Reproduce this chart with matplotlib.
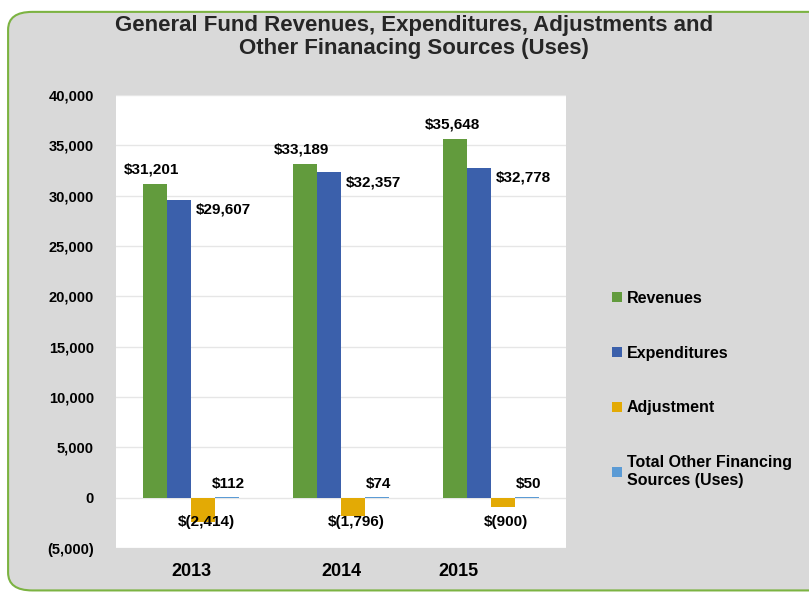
import matplotlib.pyplot as plt
import matplotlib.transforms as mtransforms
from matplotlib.patches import FancyBboxPatch
import numpy as np

plt.rcParams['font.family'] = ['Liberation Sans', 'DejaVu Sans']
plt.rcParams['font.weight'] = 'bold'

years = ['2013', '2014', '2015']
revenues = [31201, 33189, 35648]
expenditures = [29607, 32357, 32778]
adjustment = [-2414, -1796, -900]
other_financing = [112, 74, 50]

series_names = ['Revenues', 'Expenditures', 'Adjustment',
                'Total Other Financing\nSources (Uses)']
colors = ['#629b3d', '#3b60ab', '#e3aa05', '#5b9bd5']


def money(v):
    if v < 0:
        return f"$({-v:,})"
    return f"${v:,}"


fig = plt.figure(figsize=(8.09, 5.94), dpi=100)
fig.patch.set_facecolor('white')

# grey panel with green rounded edge
panel = FancyBboxPatch((0.010, 0.006), 1.2, 0.974,
                       boxstyle="round,pad=0,rounding_size=0.03",
                       transform=fig.transFigure, facecolor='#d9d9d9',
                       edgecolor='#7cb342', linewidth=1.5, zorder=-10)
fig.patches.append(panel)

ax = fig.add_axes([0.1434, 0.0774, 0.5562, 0.7626])
ax.set_facecolor('white')

x = np.arange(len(years))
w = 0.16
data = [revenues, expenditures, adjustment, other_financing]
bars = []
for i, (vals, c, name) in enumerate(zip(data, colors, series_names)):
    b = ax.bar(x + (i - 1.5) * w, vals, width=w, color=c, label=name,
               linewidth=0, zorder=3)
    bars.append(b)

ax.set_xlim(-0.5, 2.5)
ax.set_ylim(-5000, 40000)
ticks = np.arange(-5000, 40001, 5000)
ax.set_yticks(ticks)
ax.set_yticklabels([f"({-t:,})" if t < 0 else f"{t:,}" for t in ticks])
ax.yaxis.grid(True, color='#e6e6e6', linewidth=1, zorder=0)
ax.tick_params(axis='y', length=0, pad=16, labelsize=10.5)
ax.tick_params(axis='x', length=0, pad=11, labelsize=13)
for s in ax.spines.values():
    s.set_visible(False)

ax.set_xticks(x)
ax.set_xticklabels(years)
# the 2015 category label sits left of its group
shift = mtransforms.ScaledTranslation(-0.33, 0, fig.dpi_scale_trans)
lab = ax.get_xticklabels()[2]
lab.set_transform(lab.get_transform() + shift)

fs = 11
for i in range(len(years)):
    xr = x[i] - 1.5 * w
    ax.text(xr - 0.02, revenues[i] + 700, money(revenues[i]),
            ha='center', va='bottom', fontsize=fs)
    xe = x[i] - 0.5 * w
    ax.text(xe + w / 2 + 0.03, expenditures[i] - 1000, money(expenditures[i]),
            ha='left', va='center', fontsize=fs)
    xa = x[i] + 0.5 * w
    ax.text(xa + 0.02, -2450, money(adjustment[i]),
            ha='center', va='center', fontsize=fs)
    xo = x[i] + 1.5 * w
    ax.text(xo + 0.01, 1400, money(other_financing[i]),
            ha='center', va='center', fontsize=fs)

leg = fig.legend(handles=bars, labels=series_names, loc='upper left',
                 bbox_to_anchor=(0.739, 0.535), frameon=False,
                 handlelength=0.6, handleheight=0.6, handletextpad=0.3,
                 labelspacing=2.5, fontsize=11.5)

fig.text(0.512, 0.975, "General Fund Revenues, Expenditures, Adjustments and\n"
         "Other Finanacing Sources (Uses)", ha='center', va='top',
         fontsize=16, color='#262626', linespacing=1.15)

fig.savefig('out.png', dpi=100, facecolor=fig.get_facecolor())
